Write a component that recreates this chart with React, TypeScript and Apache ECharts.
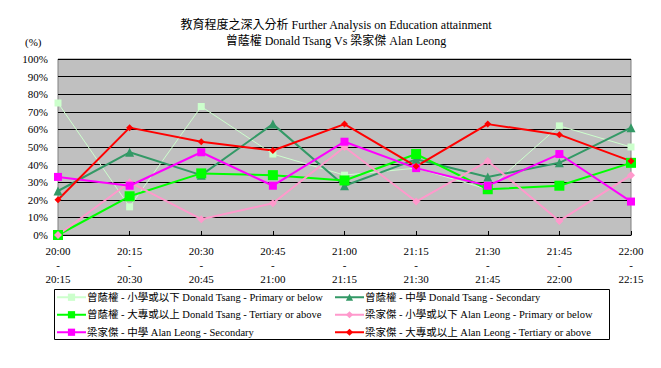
import React, { useEffect, useRef } from "react";
import * as echarts from "echarts";

const categories = ["20:00\n-\n20:15", "20:15\n-\n20:30", "20:30\n-\n20:45", "20:45\n-\n21:00", "21:00\n-\n21:15", "21:15\n-\n21:30", "21:30\n-\n21:45", "21:45\n-\n22:00", "22:00\n-\n22:15"];

const tsangPrimary = [75, 16, 73, 46, 34, 38, 26, 62, 50];
const tsangSecondary = [25, 47, 34, 63, 28, 43, 33, 41, 61];
const tsangTertiary = [0, 22, 35, 34, 31, 46, 26, 28, 41];
const leongPrimary = [0, 30, 9, 18, 50, 19, 42, 8, 34];
const leongSecondary = [33, 28, 47, 28, 53, 38, 28, 46, 19];
const leongTertiary = [20, 61, 53, 48, 63, 39, 63, 57, 42];

const names = [
  "曾蔭權 - 小學或以下 Donald Tsang - Primary or below",
  "曾蔭權 - 中學 Donald Tsang - Secondary",
  "曾蔭權 - 大專或以上 Donald Tsang - Tertiary or above",
  "梁家傑 - 小學或以下 Alan Leong - Primary or below",
  "梁家傑 - 中學 Alan Leong - Secondary",
  "梁家傑 - 大專或以上 Alan Leong - Tertiary or above",
];

const FONT = "'Liberation Serif', 'Noto Sans CJK TC', serif";

export default function App() {
  const ref = useRef<HTMLDivElement>(null);
  useEffect(() => {
    const chart = echarts.init(ref.current!, null, { renderer: "svg" });
    const mk = (name: string, data: number[], color: string, symbol: string, size: number, width: number) => ({
      name,
      type: "line",
      data,
      symbol,
      symbolSize: size,
      showAllSymbol: true,
      lineStyle: { color, width },
      itemStyle: { color, borderWidth: 0 },
      emphasis: { disabled: true },
    });
    const legendText = { fontSize: 10.5, color: "#000", fontFamily: FONT, padding: [0, 0, 0, -4] };
    chart.setOption({
      animation: false,
      textStyle: { fontFamily: FONT },
      title: {
        text: "教育程度之深入分析 Further Analysis on Education attainment\n曾蔭權 Donald Tsang Vs 梁家傑 Alan Leong",
        left: 331,
        top: 12,
        textAlign: "center",
        textStyle: { fontSize: 12, fontWeight: "normal", color: "#000", lineHeight: 16, fontFamily: FONT },
      },
      graphic: [
        { type: "text", left: 25, top: 36, style: { text: "(%)", fontSize: 11, fill: "#000", fontFamily: FONT } },
        { type: "rect", shape: { x: 54.5, y: 289.5, width: 555, height: 50 }, style: { fill: "none", stroke: "#000", lineWidth: 1 } },
      ],
      legend: [
        {
          data: [names[0], names[2], names[4]],
          orient: "vertical",
          left: 56,
          top: 292,
          itemWidth: 29,
          itemHeight: 9,
          itemGap: 7,
          textStyle: legendText,
          padding: 0,
          selectedMode: false,
        },
        {
          data: [names[1], names[3], names[5]],
          orient: "vertical",
          left: 334,
          top: 292,
          itemWidth: 29,
          itemHeight: 9,
          itemGap: 7,
          textStyle: legendText,
          padding: 0,
          selectedMode: false,
        },
      ],
      grid: { left: 58, right: 30, top: 59, height: 176, backgroundColor: "#C0C0C0", show: true, borderColor: "#808080", borderWidth: 1 },
      xAxis: {
        type: "category",
        data: categories,
        boundaryGap: false,
        axisLine: { show: true, lineStyle: { color: "#000" } },
        axisTick: { show: true, inside: true, length: 4, lineStyle: { color: "#000" } },
        axisLabel: { fontSize: 11, color: "#000", lineHeight: 14, margin: 9, interval: 0, fontFamily: FONT },
        splitLine: { show: false },
      },
      yAxis: {
        type: "value",
        min: 0,
        max: 100,
        interval: 10,
        axisLine: { show: false },
        axisTick: { show: false },
        axisLabel: { fontSize: 11, color: "#000", formatter: "{value}%", margin: 10, fontFamily: FONT },
        splitLine: { show: true, lineStyle: { color: "#000", width: 1 } },
      },
      series: [
        mk(names[0], tsangPrimary, "#CCFFCC", "rect", 7, 1),
        mk(names[1], tsangSecondary, "#339966", "triangle", 9, 2),
        mk(names[2], tsangTertiary, "#00FF00", "rect", 10, 2),
        mk(names[3], leongPrimary, "#FF99CC", "diamond", 8, 2),
        mk(names[4], leongSecondary, "#FF00FF", "rect", 8, 2),
        mk(names[5], leongTertiary, "#FF0000", "diamond", 7, 2),
      ],
    });
    return () => chart.dispose();
  }, []);
  return <div ref={ref} style={{ position: "absolute", left: 0, top: 0, width: 661, height: 368 }} />;
}
